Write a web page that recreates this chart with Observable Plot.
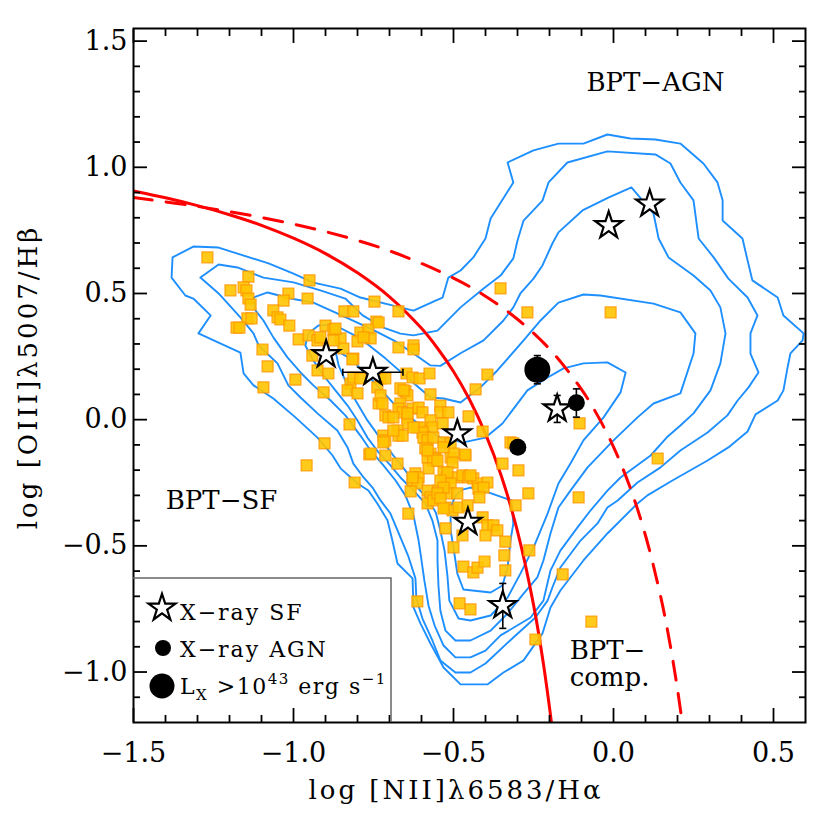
<!DOCTYPE html>
<html><head><meta charset="utf-8">
<script src="https://cdn.jsdelivr.net/npm/d3@7"></script>
<script src="https://cdn.jsdelivr.net/npm/@observablehq/plot@0.6"></script>
<style>
body{margin:0;background:#fff;}
#chart svg{display:block;}
</style>
</head><body><div id="chart"></div>
<script>
// ---- axis ticks ----
const xMajor = [-1.5, -1.0, -0.5, 0.0, 0.5];
const xTickLabels = ["−1.5", "−1.0", "−0.5", "0.0", "0.5"];
const xMinor = [-1.4, -1.3, -1.2, -1.1, -0.9, -0.8, -0.7, -0.6, -0.4, -0.3, -0.2, -0.1, 0.1, 0.2, 0.3, 0.4];
const yMajor = [-1.0, -0.5, 0.0, 0.5, 1.0, 1.5];
const yTickLabels = ["−1.0", "−0.5", "0.0", "0.5", "1.0", "1.5"];
const yMinor = [-1.1, -0.9, -0.8, -0.7, -0.6, -0.4, -0.3, -0.2, -0.1, 0.1, 0.2, 0.3, 0.4, 0.6, 0.7, 0.8, 0.9, 1.1, 1.2, 1.3, 1.4];

// ---- demarcation curves ----
const kauffX = [-1.5, -1.4, -1.3, -1.2, -1.1, -1.0, -0.9, -0.8, -0.7, -0.6, -0.55, -0.5, -0.45, -0.4, -0.35, -0.3, -0.25, -0.22, -0.2, -0.194];
const kauffY = [0.906, 0.879, 0.848, 0.812, 0.770, 0.719, 0.658, 0.582, 0.487, 0.362, 0.283, 0.191, 0.080, -0.056, -0.225, -0.443, -0.733, -0.959, -1.14, -1.2];
const kewleyX = [-1.5, -1.3, -1.1, -0.9, -0.7, -0.5, -0.4, -0.3, -0.2, -0.1, -0.05, 0.0, 0.05, 0.1, 0.15, 0.18, 0.2, 0.215];
const kewleyY = [0.880, 0.845, 0.801, 0.745, 0.669, 0.561, 0.489, 0.398, 0.280, 0.120, 0.017, -0.108, -0.262, -0.459, -0.716, -0.913, -1.069, -1.202];

// ---- SDSS density contours ----
const contour1 = [[-1.378,0.643],[-1.313,0.686],[-1.234,0.682],[-1.175,0.658],[-1.078,0.619],[-1.0,0.579],[-0.938,0.543],[-0.853,0.519],[-0.791,0.484],[-0.688,0.452],[-0.625,0.432],[-0.556,0.472],[-0.534,0.484],[-0.516,0.563],[-0.478,0.591],[-0.438,0.643],[-0.4,0.718],[-0.384,0.797],[-0.313,0.940],[-0.331,1.019],[-0.25,1.067],[-0.172,1.094],[-0.094,1.094],[-0.019,1.130],[0.053,1.114],[0.131,1.110],[0.209,1.094],[0.281,1.015],[0.325,0.940],[0.341,0.869],[0.341,0.789],[0.403,0.718],[0.419,0.631],[0.434,0.552],[0.513,0.484],[0.531,0.413],[0.594,0.342],[0.591,0.314],[0.553,0.263],[0.544,0.207],[0.531,0.116],[0.513,0.076],[0.444,0.021],[0.419,-0.047],[0.359,-0.110],[0.294,-0.162],[0.184,-0.241],[0.106,-0.300],[0.075,-0.332],[-0.019,-0.451],[-0.094,-0.558],[-0.166,-0.677],[-0.197,-0.744],[-0.222,-0.847],[-0.281,-0.954],[-0.344,-1.002],[-0.394,-1.049],[-0.478,-1.049],[-0.531,-0.982],[-0.572,-0.887],[-0.603,-0.808],[-0.625,-0.744],[-0.628,-0.629],[-0.675,-0.570],[-0.691,-0.479],[-0.706,-0.400],[-0.738,-0.332],[-0.766,-0.281],[-0.8,-0.253],[-0.853,-0.193],[-0.878,-0.142],[-0.925,-0.071],[-0.994,0.009],[-1.063,0.084],[-1.125,0.136],[-1.156,0.183],[-1.166,0.266],[-1.297,0.342],[-1.259,0.413],[-1.313,0.480],[-1.338,0.492],[-1.381,0.563],[-1.378,0.643]];
const contour2 = [[-1.291,0.563],[-1.234,0.615],[-1.175,0.603],[-1.094,0.563],[-1.0,0.544],[-0.916,0.512],[-0.838,0.480],[-0.784,0.413],[-0.719,0.365],[-0.666,0.341],[-0.625,0.334],[-0.55,0.353],[-0.478,0.445],[-0.406,0.520],[-0.353,0.571],[-0.313,0.639],[-0.3,0.710],[-0.281,0.789],[-0.222,0.868],[-0.203,0.940],[-0.144,1.019],[-0.019,1.063],[0.131,1.051],[0.178,1.015],[0.209,0.940],[0.25,0.869],[0.266,0.718],[0.313,0.643],[0.359,0.559],[0.419,0.484],[0.45,0.413],[0.428,0.342],[0.428,0.262],[0.453,0.187],[0.422,0.128],[0.388,0.076],[0.356,0.017],[0.294,-0.051],[0.209,-0.122],[0.147,-0.189],[0.075,-0.249],[0.013,-0.320],[-0.019,-0.348],[-0.05,-0.411],[-0.103,-0.479],[-0.166,-0.586],[-0.191,-0.665],[-0.206,-0.717],[-0.244,-0.784],[-0.313,-0.863],[-0.4,-0.966],[-0.447,-1.002],[-0.494,-1.002],[-0.541,-0.954],[-0.566,-0.875],[-0.597,-0.788],[-0.616,-0.709],[-0.619,-0.629],[-0.641,-0.542],[-0.675,-0.439],[-0.697,-0.372],[-0.728,-0.320],[-0.753,-0.269],[-0.781,-0.229],[-0.813,-0.174],[-0.831,-0.110],[-0.863,-0.043],[-0.925,0.025],[-0.978,0.088],[-1.016,0.136],[-1.05,0.223],[-1.109,0.294],[-1.125,0.342],[-1.166,0.405],[-1.234,0.500],[-1.291,0.563]];
const contour3 = [[-1.125,0.484],[-1.081,0.504],[-1.009,0.480],[-0.938,0.464],[-0.853,0.415],[-0.75,0.355],[-0.681,0.310],[-0.625,0.262],[-0.572,0.215],[-0.541,0.213],[-0.478,0.263],[-0.406,0.314],[-0.344,0.393],[-0.313,0.445],[-0.291,0.500],[-0.25,0.559],[-0.222,0.611],[-0.191,0.698],[-0.172,0.742],[-0.097,0.829],[-0.016,0.880],[0.056,0.920],[0.125,0.817],[0.141,0.718],[0.172,0.643],[0.25,0.571],[0.303,0.512],[0.334,0.445],[0.35,0.342],[0.334,0.223],[0.303,0.116],[0.25,0.025],[0.209,-0.023],[0.166,-0.071],[0.116,-0.142],[0.022,-0.229],[-0.019,-0.281],[-0.072,-0.360],[-0.113,-0.428],[-0.166,-0.519],[-0.197,-0.598],[-0.219,-0.717],[-0.259,-0.784],[-0.353,-0.855],[-0.4,-0.915],[-0.447,-0.942],[-0.494,-0.942],[-0.531,-0.895],[-0.559,-0.816],[-0.578,-0.737],[-0.591,-0.638],[-0.6,-0.558],[-0.609,-0.479],[-0.625,-0.380],[-0.65,-0.301],[-0.681,-0.241],[-0.719,-0.181],[-0.759,-0.122],[-0.791,-0.063],[-0.838,0.017],[-0.884,0.076],[-0.938,0.136],[-0.978,0.187],[-1.019,0.247],[-1.063,0.326],[-1.094,0.393],[-1.119,0.433],[-1.125,0.484]];
const contour4 = [[-0.953,0.342],[-0.922,0.373],[-0.875,0.377],[-0.791,0.322],[-0.713,0.243],[-0.634,0.155],[-0.572,0.088],[-0.531,0.084],[-0.478,0.068],[-0.416,0.128],[-0.363,0.195],[-0.281,0.314],[-0.228,0.393],[-0.172,0.464],[-0.094,0.496],[-0.041,0.492],[0.125,0.460],[0.209,0.425],[0.256,0.342],[0.25,0.262],[0.209,0.104],[0.125,0.064],[0.075,0.009],[0.0,-0.082],[-0.081,-0.189],[-0.134,-0.280],[-0.172,-0.348],[-0.197,-0.451],[-0.219,-0.558],[-0.238,-0.625],[-0.281,-0.689],[-0.331,-0.768],[-0.384,-0.836],[-0.447,-0.875],[-0.494,-0.875],[-0.525,-0.836],[-0.541,-0.757],[-0.547,-0.658],[-0.55,-0.558],[-0.55,-0.479],[-0.566,-0.400],[-0.588,-0.332],[-0.625,-0.281],[-0.666,-0.229],[-0.697,-0.181],[-0.734,-0.130],[-0.769,-0.071],[-0.8,-0.003],[-0.831,0.056],[-0.869,0.116],[-0.906,0.175],[-0.938,0.235],[-0.963,0.294],[-0.953,0.342]];
const contour5 = [[-0.869,0.274],[-0.822,0.243],[-0.753,0.155],[-0.681,0.056],[-0.603,-0.023],[-0.541,-0.071],[-0.469,-0.090],[-0.4,-0.071],[-0.347,-0.015],[-0.269,0.116],[-0.206,0.167],[-0.156,0.203],[-0.094,0.223],[-0.019,0.227],[0.038,0.187],[0.022,0.108],[-0.031,0.009],[-0.094,-0.082],[-0.134,-0.173],[-0.172,-0.253],[-0.206,-0.372],[-0.25,-0.507],[-0.291,-0.610],[-0.331,-0.705],[-0.384,-0.776],[-0.447,-0.796],[-0.484,-0.788],[-0.513,-0.717],[-0.519,-0.618],[-0.528,-0.519],[-0.541,-0.440],[-0.555,-0.369],[-0.580,-0.313],[-0.619,-0.261],[-0.65,-0.202],[-0.688,-0.142],[-0.728,-0.075],[-0.769,-0.003],[-0.806,0.076],[-0.838,0.155],[-0.859,0.215],[-0.869,0.274]];
const contour6 = [[-0.447,-0.269],[-0.391,-0.288],[-0.319,-0.320],[-0.313,-0.411],[-0.322,-0.479],[-0.331,-0.586],[-0.347,-0.657],[-0.384,-0.685],[-0.469,-0.673],[-0.488,-0.610],[-0.5,-0.507],[-0.509,-0.439],[-0.509,-0.348],[-0.494,-0.301],[-0.472,-0.277],[-0.447,-0.269]];

// ---- emission-line galaxies (orange squares) ----
const squares = [[-1.269,0.643],[-1.141,0.567],[-1.197,0.512],[-1.156,0.524],[-1.147,0.512],[-1.141,0.480],[-1.134,0.456],[-1.016,0.500],[-1.031,0.472],[-0.95,0.552],[-0.956,0.480],[-1.063,0.433],[-1.05,0.405],[-1.041,0.397],[-1.013,0.373],[-1.144,0.401],[-1.131,0.401],[-1.178,0.365],[-1.169,0.365],[-1.097,0.278],[-1.081,0.211],[-1.094,0.128],[-0.994,0.159],[-0.984,0.318],[-0.953,0.334],[-0.925,0.314],[-0.916,0.326],[-0.9,0.373],[-0.875,0.357],[-0.853,0.322],[-0.844,0.282],[-0.941,0.254],[-0.925,0.195],[-0.891,0.183],[-0.875,0.314],[-0.813,0.242],[-0.906,0.108],[-0.841,0.429],[-0.813,0.429],[-0.747,0.468],[-0.741,0.389],[-0.791,0.345],[-0.766,0.357],[-0.8,0.310],[-0.759,0.322],[-0.822,0.143],[-0.831,0.116],[-0.8,0.104],[-0.813,0.167],[-0.791,0.163],[-0.825,-0.019],[-0.903,-0.094],[-0.959,-0.181],[-0.763,-0.138],[-0.734,0.064],[-0.672,0.429],[-0.734,0.385],[-0.869,0.361],[-0.781,0.326],[-0.672,0.286],[-0.625,0.294],[-0.625,0.278],[-0.816,0.239],[-0.728,0.163],[-0.713,0.163],[-0.738,0.128],[-0.647,0.183],[-0.628,0.167],[-0.606,0.163],[-0.575,0.183],[-0.394,0.179],[-0.431,0.120],[-0.572,0.100],[-0.666,0.124],[-0.65,0.112],[-0.644,0.096],[-0.728,0.096],[-0.722,0.064],[-0.666,0.064],[-0.672,0.044],[-0.659,0.029],[-0.628,0.044],[-0.609,0.048],[-0.597,0.029],[-0.541,0.056],[-0.541,0.029],[-0.516,0.029],[-0.713,0.017],[-0.703,0.009],[-0.688,0.009],[-0.644,0.009],[-0.644,-0.015],[-0.613,-0.031],[-0.594,-0.031],[-0.572,-0.003],[-0.566,-0.031],[-0.534,-0.015],[-0.453,0.013],[-0.409,-0.047],[-0.719,-0.063],[-0.713,-0.082],[-0.675,-0.043],[-0.672,-0.063],[-0.659,-0.063],[-0.597,-0.051],[-0.594,-0.071],[-0.581,-0.082],[-0.563,-0.071],[-0.531,-0.090],[-0.509,-0.094],[-0.588,-0.114],[-0.572,-0.134],[-0.556,-0.150],[-0.563,-0.162],[-0.509,-0.150],[-0.5,-0.134],[-0.503,-0.170],[-0.463,-0.142],[-0.759,-0.134],[-0.713,-0.142],[-0.675,-0.174],[-0.322,-0.090],[-0.313,-0.094],[-0.347,-0.174],[-0.297,-0.201],[-0.266,-0.292],[-0.809,-0.249],[-0.619,-0.213],[-0.609,-0.229],[-0.628,-0.241],[-0.613,-0.253],[-0.634,-0.284],[-0.581,-0.281],[-0.572,-0.308],[-0.547,-0.281],[-0.531,-0.209],[-0.519,-0.229],[-0.525,-0.241],[-0.488,-0.229],[-0.472,-0.221],[-0.453,-0.229],[-0.438,-0.233],[-0.425,-0.253],[-0.394,-0.249],[-0.422,-0.273],[-0.406,-0.269],[-0.509,-0.253],[-0.516,-0.292],[-0.488,-0.292],[-0.581,-0.150],[-0.563,-0.154],[-0.578,-0.193],[-0.419,-0.308],[-0.581,-0.332],[-0.563,-0.320],[-0.525,-0.348],[-0.503,-0.360],[-0.484,-0.348],[-0.456,-0.340],[-0.641,-0.372],[-0.409,-0.387],[-0.394,-0.419],[-0.375,-0.419],[-0.363,-0.439],[-0.4,-0.459],[-0.472,-0.459],[-0.525,-0.431],[-0.306,-0.340],[-0.338,-0.483],[-0.263,-0.518],[-0.5,-0.506],[-0.341,-0.538],[-0.469,-0.582],[-0.438,-0.605],[-0.425,-0.586],[-0.403,-0.562],[-0.338,-0.597],[-0.159,-0.613],[-0.613,-0.720],[-0.481,-0.728],[-0.447,-0.752],[-0.244,-0.871],[-0.069,-0.800],[-0.353,0.520],[-0.269,0.425],[-0.009,0.425],[-0.106,-0.015],[0.138,-0.154],[-0.109,-0.308],[-0.463,-0.138],[-0.688,-0.043],[-0.625,-0.031],[-0.581,-0.122],[-0.55,-0.162],[-0.531,-0.110],[-0.519,-0.209],[-0.447,-0.221],[-0.541,-0.241],[-0.531,-0.269],[-0.55,-0.292],[-0.541,-0.312],[-0.531,-0.352],[-0.628,-0.229],[-0.719,-0.090],[-0.644,0.025],[-0.656,0.116]];

// ---- X-ray sources ----
const xraySF = [[-0.898,0.258],[-0.752,0.188],[-0.488,-0.056],[-0.455,-0.406],[-0.346,-0.736],[-0.176,0.043],[-0.015,0.769],[0.113,0.855]];
const xrayAGN = [[-0.299,-0.109],[-0.116,0.067]];
const xrayLum = [[-0.238,0.198]];
// error bars: [x, low, high] (vertical) and [y, low, high] (horizontal)
const errVertical = [[-0.346,-0.827,-0.649],[-0.176,-0.011,0.096],[-0.116,0.010,0.122],[-0.238,0.142,0.254]];
const errHorizontal = [[0.188,-0.846,-0.658]];

// ---------------------------------------------------------------
const contourRows = [contour1, contour2, contour3, contour4, contour5, contour6]
  .flatMap((c, i) => c.map(([x, y]) => ({x, y, level: i})));
const kauff = kauffX.map((x, i) => ({x, y: kauffY[i]}));
const kewley = kewleyX.map((x, i) => ({x, y: kewleyY[i]}));
const capsV = errVertical.flatMap(([x, lo, hi]) => [{x, y: lo}, {x, y: hi}]);
const capsH = errHorizontal.flatMap(([y, lo, hi]) => [{x: lo, y}, {x: hi, y}]);
const capHSym = {draw(ctx, size) { const w = Math.sqrt(size) / 2; ctx.moveTo(-w, 0); ctx.lineTo(w, 0); }};
const capVSym = {draw(ctx, size) { const w = Math.sqrt(size) / 2; ctx.moveTo(0, -w); ctx.lineTo(0, w); }};
const xLab = new Map(xMajor.map((v, i) => [v, xTickLabels[i]]));
const yLab = new Map(yMajor.map((v, i) => [v, yTickLabels[i]]));
const blank = () => "";

const chart = Plot.plot({
  width: 830, height: 830,
  marginLeft: 133, marginRight: 25, marginTop: 28, marginBottom: 108,
  x: {domain: [-1.5, 0.6]},
  y: {domain: [-1.2, 1.55]},
  style: {fontFamily: "DejaVu Serif", fontSize: "27px", background: "white", color: "black"},
  marks: [
    Plot.line(contourRows, {x: "x", y: "y", z: "level", stroke: "#1e8fff", strokeWidth: 1.9, clip: true}),
    Plot.line(kauff, {x: "x", y: "y", stroke: "#ff0000", strokeWidth: 3, curve: "catmull-rom", clip: true}),
    Plot.line(kewley, {x: "x", y: "y", stroke: "#ff0000", strokeWidth: 3, curve: "catmull-rom", strokeDasharray: "19,14", clip: true}),
    Plot.dot(squares, {x: d => d[0], y: d => d[1], symbol: "square", r: 6.2, fill: "#ffc400", fillOpacity: 0.9, stroke: "#ff9400", strokeOpacity: 0.8, strokeWidth: 1.2}),
    Plot.ruleX(errVertical, {x: d => d[0], y1: d => d[1], y2: d => d[2], stroke: "black", strokeWidth: 1.6}),
    Plot.ruleY(errHorizontal, {y: d => d[0], x1: d => d[1], x2: d => d[2], stroke: "black", strokeWidth: 1.6}),
    Plot.dot(capsV, {x: "x", y: "y", symbol: capHSym, r: 4, fill: "none", stroke: "black", strokeWidth: 1.6}),
    Plot.dot(capsH, {x: "x", y: "y", symbol: capVSym, r: 4, fill: "none", stroke: "black", strokeWidth: 1.6}),
    Plot.dot(xraySF, {x: d => d[0], y: d => d[1], symbol: "star", r: 8.5, fill: "white", stroke: "black", strokeWidth: 2.2}),
    Plot.dot(xrayAGN, {x: d => d[0], y: d => d[1], r: 8.5, fill: "black"}),
    Plot.dot(xrayLum, {x: d => d[0], y: d => d[1], r: 13, fill: "black"}),
    Plot.text([{t: "BPT−AGN"}], {x: () => 0.131, y: () => 1.336, text: "t", fontSize: 26, textAnchor: "middle"}),
    Plot.text([{t: "BPT−SF"}], {x: () => -1.225, y: () => -0.32, text: "t", fontSize: 26, textAnchor: "middle"}),
    Plot.text([{t: "BPT−\ncomp."}], {x: () => -0.137, y: () => -0.87, text: "t", fontSize: 26, textAnchor: "start", lineAnchor: "top", lineHeight: 1.05}),
    // ticks (inward)
    Plot.axisX(xMinor, {anchor: "bottom", tickSize: -7, tickFormat: blank, label: null, strokeWidth: 1.8}),
    Plot.axisX(xMajor, {anchor: "bottom", tickSize: -14, tickFormat: blank, label: null, strokeWidth: 1.8}),
    Plot.axisX(xMinor, {anchor: "top", tickSize: -7, tickFormat: blank, label: null, strokeWidth: 1.8}),
    Plot.axisX(xMajor, {anchor: "top", tickSize: -14, tickFormat: blank, label: null, strokeWidth: 1.8}),
    Plot.axisY(yMinor, {anchor: "left", tickSize: -7, tickFormat: blank, label: null, strokeWidth: 1.8}),
    Plot.axisY(yMajor, {anchor: "left", tickSize: -14, tickFormat: blank, label: null, strokeWidth: 1.8}),
    Plot.axisY(yMinor, {anchor: "right", tickSize: -7, tickFormat: blank, label: null, strokeWidth: 1.8}),
    Plot.axisY(yMajor, {anchor: "right", tickSize: -14, tickFormat: blank, label: null, strokeWidth: 1.8}),
    // tick labels
    Plot.axisX(xMajor, {anchor: "bottom", tickSize: 0, tickPadding: 20, tickFormat: d => xLab.get(d), label: null, fontSize: 27}),
    Plot.axisY(yMajor, {anchor: "left", tickSize: 0, tickPadding: 6, tickFormat: d => yLab.get(d), label: null, fontSize: 27}),
    Plot.frame({stroke: "black", strokeWidth: 2})
  ]
});
document.getElementById("chart").appendChild(chart);

// ---- axis titles and legend ----
const svg = d3.select(chart);
const ff = "DejaVu Serif";
svg.append("text").attr("x", 456).attr("y", 799).attr("text-anchor", "middle")
  .attr("font-family", ff).attr("font-size", 26).style("letter-spacing", "3px")
  .text("log [NII]λ6583/Hα");
svg.append("text").attr("transform", "translate(37,377) rotate(-90)").attr("text-anchor", "middle")
  .attr("font-family", ff).attr("font-size", 26).style("letter-spacing", "3px")
  .text("log [OIII]λ5007/Hβ");

const lg = svg.append("g").attr("font-family", ff).attr("text-anchor", "start").style("white-space", "pre");
lg.append("path").attr("d", "M133,578H391V722").attr("fill", "none").attr("stroke", "#666").attr("stroke-width", 1.5);
lg.append("path").attr("transform", "translate(162,608)")
  .attr("d", d3.symbol(d3.symbolStar, Math.PI * 8.5 * 8.5)())
  .attr("fill", "white").attr("stroke", "black").attr("stroke-width", 2.2);
lg.append("circle").attr("cx", 163).attr("cy", 648).attr("r", 8).attr("fill", "black");
lg.append("circle").attr("cx", 162).attr("cy", 686).attr("r", 12.5).attr("fill", "black");
lg.append("text").attr("x", 180).attr("y", 620).attr("text-anchor", "start").attr("font-size", 22).style("letter-spacing", "2px").text("X−ray SF");
lg.append("text").attr("x", 180).attr("y", 657).attr("text-anchor", "start").attr("font-size", 22).style("letter-spacing", "2px").text("X−ray AGN");
const t3 = lg.append("text").attr("x", 180).attr("y", 694).attr("text-anchor", "start").attr("font-size", 22).style("letter-spacing", "1.5px");
t3.append("tspan").text("L");
t3.append("tspan").attr("font-size", 15).attr("dy", 6).text("X");
t3.append("tspan").attr("dy", -6).text(" >10");
t3.append("tspan").attr("font-size", 15).attr("dy", -10).text("43");
t3.append("tspan").attr("dy", 10).text(" erg s");
t3.append("tspan").attr("font-size", 15).attr("dy", -10).text("−1");
</script>
</body></html>
